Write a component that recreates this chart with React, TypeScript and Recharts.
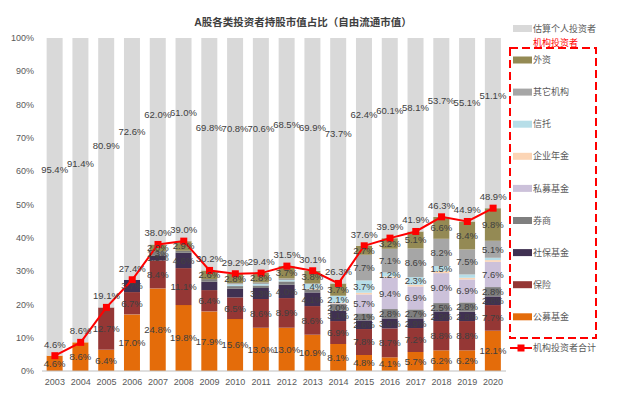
import React from 'react';
import {
  ComposedChart,
  Bar,
  Line,
  XAxis,
  YAxis,
  LabelList,
} from 'recharts';

// 年份
const years = [
  '2003', '2004', '2005', '2006', '2007', '2008', '2009', '2010', '2011',
  '2012', '2013', '2014', '2015', '2016', '2017', '2018', '2019', '2020',
];

// 各类投资者持股占比 (%)
const publicFund = [4.6, 8.6, 6.4, 17.0, 24.8, 19.8, 17.9, 15.6, 13.0, 13.0, 10.9, 8.1, 4.8, 4.1, 5.7, 6.2, 6.2, 12.1];
const insurance = [0, 0, 12.7, 6.7, 8.4, 11.1, 6.4, 6.5, 8.6, 8.9, 8.6, 6.9, 7.8, 8.7, 7.2, 8.8, 8.8, 7.7];
const socialSecurity = [0, 0, 0, 3.7, 1.5, 4.6, 2.5, 2.6, 3.3, 4.0, 4.1, 3.1, 2.6, 3.0, 2.9, 2.9, 2.8, 2.6];
const broker = [0, 0, 0, 0, 1.3, 0.6, 0.8, 0.8, 0.8, 1.0, 0.9, 2.0, 2.1, 2.8, 2.7, 2.5, 2.8, 2.8];
const privateFund = [0, 0, 0, 0, 0, 0, 0, 0, 0, 0, 0, 0.2, 5.7, 9.4, 6.9, 9.0, 6.9, 7.6];
const pension = [0, 0, 0, 0, 0, 0, 0, 0, 0, 0, 0.2, 0.2, 0.5, 0.4, 0.5, 0.6, 0.5, 0.5];
const trust = [0, 0, 0, 0, 0, 0, 0, 0.5, 0.4, 0.4, 1.4, 2.1, 3.7, 1.2, 2.3, 1.5, 1.0, 0.7];
const otherInst = [0, 0, 0, 0, 0, 0, 0, 0.4, 0.5, 0.5, 0.2, 0, 7.7, 7.1, 8.6, 8.2, 7.5, 5.1];
const foreign = [0, 0, 0, 0, 2.0, 2.9, 2.6, 2.8, 2.8, 3.7, 3.8, 3.7, 2.7, 3.2, 5.1, 6.6, 8.4, 9.8];
const individual = [95.4, 91.4, 80.9, 72.6, 62.0, 61.0, 69.8, 70.8, 70.6, 68.5, 69.9, 73.7, 62.4, 60.1, 58.1, 53.7, 55.1, 51.1];
const institutionalTotal = [4.6, 8.6, 19.1, 27.4, 38.0, 39.0, 30.2, 29.2, 29.4, 31.5, 30.1, 26.3, 37.6, 39.9, 41.9, 46.3, 44.9, 48.9];

const yTicks = [0, 10, 20, 30, 40, 50, 60, 70, 80, 90, 100];

const series = [
  { key: 'publicFund', name: '公募基金', color: '#E46C0A', hide: [] as string[] },
  { key: 'insurance', name: '保险', color: '#953735', hide: [] },
  { key: 'socialSecurity', name: '社保基金', color: '#403152', hide: ['2009', '2010'] },
  { key: 'broker', name: '券商', color: '#7F7F7F', hide: [] },
  { key: 'privateFund', name: '私募基金', color: '#CCC1DA', hide: [] },
  { key: 'pension', name: '企业年金', color: '#FCD5B5', hide: [] },
  { key: 'trust', name: '信托', color: '#B7DEE8', hide: [] },
  { key: 'otherInst', name: '其它机构', color: '#A6A6A6', hide: [] },
  { key: 'foreign', name: '外资', color: '#948A54', hide: [] },
];

const seriesValues: Record<string, number[]> = {
  publicFund, insurance, socialSecurity, broker, privateFund, pension, trust, otherInst, foreign,
};

const data = years.map((year, i) => {
  const row: Record<string, any> = { year, individual: individual[i], total: institutionalTotal[i] };
  series.forEach((s) => {
    row[s.key] = seriesValues[s.key][i];
  });
  return row;
});

const FONT = '"Liberation Sans", "Noto Sans CJK SC", sans-serif';
const LABEL_COLOR = '#404040';
const LABEL_SIZE = 9.5;

// plot area (matches chart margins below)
const PLOT_LEFT = 42;
const PLOT_WIDTH = 464;

// zero bars are skipped by recharts, so work out the category from x
const yearAt = (x: number, width: number) => {
  const band = PLOT_WIDTH / years.length;
  const idx = Math.floor((x + width / 2 - PLOT_LEFT) / band);
  return years[Math.max(0, Math.min(years.length - 1, idx))];
};

const segmentLabel = (key: string, hide: string[]) => (props: any) => {
  const { x, y, width, height } = props;
  const year = yearAt(x, width);
  const v = seriesValues[key][years.indexOf(year)];
  if (!(v >= 1.2) || hide.includes(year)) return null;
  return (
    <text
      x={x + width / 2}
      y={y + height / 2}
      dy='0.35em'
      textAnchor='middle'
      fontSize={LABEL_SIZE}
      fill={LABEL_COLOR}
      fontFamily={FONT}
    >
      {v.toFixed(1)}%
    </text>
  );
};

const individualLabel = (props: any) => {
  const { x, y, width, height } = props;
  const v = individual[years.indexOf(yearAt(x, width))];
  return (
    <text
      x={x + width / 2}
      y={y + height / 2 - 27}
      dy='0.35em'
      textAnchor='middle'
      fontSize={LABEL_SIZE}
      fill={LABEL_COLOR}
      fontFamily={FONT}
    >
      {v.toFixed(1)}%
    </text>
  );
};

const SquareDot = (props: any) => {
  const { cx, cy } = props;
  if (cx == null || cy == null) return null;
  return <rect x={cx - 3.5} y={cy - 3.5} width={7} height={7} fill='#FF0000' />;
};

const legendItems = [...series].reverse();

export default function App() {
  return (
    <div style={{ position: 'absolute', left: 0, top: 0, width: 640, height: 409, background: '#fff' }}>
      <ComposedChart
        width={640}
        height={409}
        data={data}
        margin={{ top: 38, right: 134, left: 8, bottom: 8 }}
        barCategoryGap='18%'
      >
        <XAxis
          dataKey='year'
          tick={{ fontSize: 9, fill: '#595959', fontFamily: FONT }}
          axisLine={{ stroke: '#BFBFBF' }}
          tickLine={false}
          height={30}
          interval={0}
        />
        <YAxis
          domain={[0, 100]}
          ticks={yTicks}
          tickFormatter={(v) => `${v}%`}
          tick={{ fontSize: 9, fill: '#595959', fontFamily: FONT }}
          axisLine={false}
          tickLine={false}
          width={34}
        />
        {series.map((s) => (
          <Bar key={s.key} dataKey={s.key} name={s.name} stackId='a' fill={s.color} isAnimationActive={false}>
            <LabelList dataKey={s.key} content={segmentLabel(s.key, s.hide)} />
          </Bar>
        ))}
        <Bar dataKey='individual' name='估算个人投资者' stackId='a' fill='#D9D9D9' isAnimationActive={false}>
          <LabelList dataKey='individual' content={individualLabel} />
        </Bar>
        <Line
          dataKey='total'
          name='机构投资者合计'
          stroke='#FF0000'
          strokeWidth={2}
          dot={<SquareDot />}
          activeDot={false}
          isAnimationActive={false}
        >
          <LabelList
            dataKey='total'
            position='top'
            offset={8}
            formatter={(v: any) => `${Number(v).toFixed(1)}%`}
            style={{ fontSize: LABEL_SIZE, fill: LABEL_COLOR, fontFamily: FONT }}
          />
        </Line>
      </ComposedChart>

      <svg
        width={640}
        height={409}
        style={{ position: 'absolute', left: 0, top: 0, pointerEvents: 'none' }}
        fontFamily={FONT}
      >
        <text x={303} y={22} dy='0.35em' textAnchor='middle' fontSize={10.5} fontWeight='bold' fill='#404040'>
          A股各类投资者持股市值占比（自由流通市值）
        </text>

        <rect x={513} y={25} width={19} height={7} fill='#D9D9D9' />
        <text x={533} y={28.5} dy='0.35em' fontSize={9} fill='#595959'>估算个人投资者</text>

        <text x={533} y={43} dy='0.35em' fontSize={9} fill='#FF0000'>机构投资者</text>
        <rect x={510} y={48} width={86} height={290} fill='none' stroke='#FF0000' strokeWidth={2} strokeDasharray='8 4' />

        {legendItems.map((s, i) => {
          const cy = 60 + i * 32.1;
          return (
            <g key={s.key}>
              <rect x={513} y={cy - 3.5} width={19} height={7} fill={s.color} />
              <text x={533} y={cy} dy='0.35em' fontSize={9} fill='#595959'>{s.name}</text>
            </g>
          );
        })}

        <line x1={510} y1={348} x2={532} y2={348} stroke='#FF0000' strokeWidth={2} />
        <rect x={517.5} y={344.5} width={7} height={7} fill='#FF0000' />
        <text x={533} y={348} dy='0.35em' fontSize={9} fill='#595959'>机构投资者合计</text>
      </svg>
    </div>
  );
}
